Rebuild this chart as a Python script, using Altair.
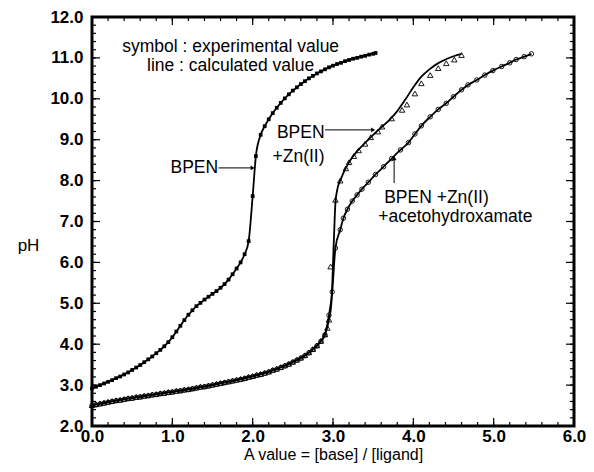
import altair as alt
import pandas as pd

# ---------------- data ----------------
# BPEN : experimental (filled squares) and calculated line
bpen_x = [0.00, 0.05, 0.10, 0.15, 0.20, 0.25, 0.30, 0.35, 0.40, 0.45, 0.50, 0.55,
          0.60, 0.65, 0.70, 0.75, 0.80, 0.85, 0.90, 0.95, 1.00, 1.05, 1.10, 1.15,
          1.20, 1.25, 1.30, 1.35, 1.40, 1.45, 1.50, 1.55, 1.60, 1.65, 1.70, 1.75,
          1.80, 1.85, 1.90, 1.95, 2.00, 2.04, 2.10, 2.15, 2.20, 2.25, 2.30, 2.35,
          2.40, 2.45, 2.50, 2.55, 2.60, 2.65, 2.70, 2.75, 2.80, 2.85, 2.90, 2.95,
          3.00, 3.05, 3.10, 3.15, 3.20, 3.25, 3.30, 3.35, 3.40, 3.45, 3.50, 3.53]
bpen_y = [2.92, 2.96, 3.00, 3.04, 3.08, 3.12, 3.17, 3.21, 3.26, 3.31, 3.37, 3.43,
          3.49, 3.56, 3.63, 3.70, 3.78, 3.86, 3.95, 4.05, 4.17, 4.31, 4.45, 4.59,
          4.72, 4.83, 4.93, 5.01, 5.09, 5.16, 5.23, 5.30, 5.38, 5.47, 5.58, 5.71,
          5.85, 6.00, 6.20, 6.52, 7.62, 8.60, 9.12, 9.33, 9.50, 9.65, 9.78, 9.90,
          10.01, 10.11, 10.20, 10.28, 10.36, 10.43, 10.50, 10.56, 10.62, 10.67, 10.72, 10.77,
          10.81, 10.85, 10.88, 10.92, 10.95, 10.98, 11.00, 11.03, 11.05, 11.08, 11.10, 11.12]

# BPEN + Zn(II) : experimental (open triangles)
zn_x = [0.00, 0.05, 0.10, 0.15, 0.20, 0.25, 0.30, 0.35, 0.40, 0.45, 0.50, 0.55,
        0.60, 0.65, 0.70, 0.75, 0.80, 0.85, 0.90, 0.95, 1.00, 1.05, 1.10, 1.15,
        1.20, 1.25, 1.30, 1.35, 1.40, 1.45, 1.50, 1.55, 1.60, 1.65, 1.70, 1.75,
        1.80, 1.85, 1.90, 1.95, 2.00, 2.05, 2.10, 2.15, 2.20, 2.25, 2.30, 2.35,
        2.40, 2.45, 2.50, 2.55, 2.60, 2.65, 2.70, 2.75, 2.80, 2.85, 2.90, 2.93,
        2.95, 2.97, 3.03, 3.09, 3.16, 3.20, 3.26, 3.32, 3.40, 3.47, 3.56, 3.61,
        3.73, 3.86, 3.92, 4.02, 4.10, 4.21, 4.31, 4.41, 4.51, 4.60]
zn_y = [2.51, 2.53, 2.55, 2.57, 2.59, 2.61, 2.63, 2.64, 2.66, 2.68, 2.69, 2.71,
        2.72, 2.74, 2.75, 2.77, 2.78, 2.80, 2.81, 2.83, 2.84, 2.86, 2.87, 2.89,
        2.90, 2.92, 2.94, 2.96, 2.97, 2.99, 3.01, 3.03, 3.05, 3.07, 3.09, 3.11,
        3.13, 3.15, 3.17, 3.20, 3.22, 3.25, 3.27, 3.30, 3.33, 3.37, 3.40, 3.44,
        3.48, 3.52, 3.57, 3.62, 3.67, 3.73, 3.80, 3.88, 3.97, 4.08, 4.24, 4.40,
        4.60, 5.90, 7.53, 8.00, 8.30, 8.45, 8.60, 8.74, 8.90, 9.06, 9.20, 9.32,
        9.52, 9.73, 9.86, 10.13, 10.38, 10.58, 10.75, 10.87, 10.96, 11.07]

# BPEN + Zn(II) : calculated line
znc_x = [0.00, 0.20, 0.40, 0.60, 0.80, 1.00, 1.20, 1.40, 1.60, 1.80, 2.00, 2.20,
         2.40, 2.60, 2.70, 2.80, 2.85, 2.90, 2.95, 2.98, 3.01, 3.03, 3.05, 3.10,
         3.20, 3.30, 3.40, 3.50, 3.60, 3.70, 3.80, 3.90, 4.00, 4.10, 4.20, 4.30,
         4.40, 4.50, 4.60]
znc_y = [2.51, 2.59, 2.66, 2.72, 2.78, 2.84, 2.90, 2.97, 3.05, 3.13, 3.22, 3.33,
         3.48, 3.67, 3.80, 3.97, 4.08, 4.24, 4.60, 5.00, 6.50, 7.45, 7.75, 8.05,
         8.45, 8.72, 8.92, 9.12, 9.30, 9.48, 9.70, 9.98, 10.28, 10.54, 10.72, 10.86,
         10.96, 11.04, 11.10]

# BPEN + Zn(II) + acetohydroxamate : experimental (open circles) and calculated line
ac_x = [0.00, 0.05, 0.10, 0.15, 0.20, 0.25, 0.30, 0.35, 0.40, 0.45, 0.50, 0.55,
        0.60, 0.65, 0.70, 0.75, 0.80, 0.85, 0.90, 0.95, 1.00, 1.05, 1.10, 1.15,
        1.20, 1.25, 1.30, 1.35, 1.40, 1.45, 1.50, 1.55, 1.60, 1.65, 1.70, 1.75,
        1.80, 1.85, 1.90, 1.95, 2.00, 2.05, 2.10, 2.15, 2.20, 2.25, 2.30, 2.35,
        2.40, 2.45, 2.50, 2.55, 2.60, 2.65, 2.70, 2.75, 2.80, 2.85, 2.90, 2.95,
        2.99, 3.03, 3.09, 3.13, 3.18, 3.24, 3.30, 3.36, 3.44, 3.53, 3.63, 3.73,
        3.84, 3.94, 4.02, 4.10, 4.21, 4.31, 4.41, 4.50, 4.60, 4.68, 4.79, 4.89,
        4.99, 5.10, 5.20, 5.28, 5.38, 5.47]
ac_y = [2.50, 2.52, 2.54, 2.56, 2.58, 2.60, 2.62, 2.63, 2.65, 2.67, 2.68, 2.70,
        2.71, 2.73, 2.74, 2.76, 2.77, 2.79, 2.80, 2.82, 2.83, 2.85, 2.86, 2.88,
        2.89, 2.91, 2.93, 2.95, 2.96, 2.98, 3.00, 3.02, 3.04, 3.06, 3.08, 3.10,
        3.12, 3.14, 3.16, 3.19, 3.21, 3.24, 3.26, 3.29, 3.32, 3.36, 3.39, 3.43,
        3.47, 3.51, 3.56, 3.61, 3.66, 3.72, 3.79, 3.87, 3.96, 4.07, 4.23, 4.71,
        5.28, 6.35, 6.80, 7.08, 7.30, 7.50, 7.65, 7.79, 7.96, 8.15, 8.34, 8.54,
        8.75, 8.93, 9.14, 9.34, 9.56, 9.74, 9.89, 10.05, 10.22, 10.34, 10.46, 10.58,
        10.69, 10.79, 10.88, 10.96, 11.03, 11.10]

# axis ticks
x_major = [0, 1, 2, 3, 4, 5, 6]
y_major = [2, 3, 4, 5, 6, 7, 8, 9, 10, 11, 12]
x_minor = [round(0.2 * i, 1) for i in range(31)]
y_minor = [round(2 + 0.2 * i, 1) for i in range(51)]

# annotations
note_center_text = ["symbol : experimental value", "line : calculated value"]
note_center_x = [1.726, 1.726]
note_center_y = [11.27, 10.80]

note_right_text = ["BPEN", "BPEN", "+Zn(II)"]
note_right_x = [1.57, 2.895, 2.895]
note_right_y = [8.31, 9.16, 8.58]

note_left_text = ["BPEN +Zn(II)", "+acetohydroxamate"]
note_left_x = [3.637, 3.563]
note_left_y = [7.57, 7.11]

# arrows: x, y, x2, y2 (data coords) and head direction
arrow_x = [1.575, 2.90, 3.761]
arrow_y = [8.31, 9.24, 7.94]
arrow_x2 = [2.00, 3.50, 3.761]
arrow_y2 = [8.31, 9.24, 8.55]
head_x = [2.00, 3.50, 3.761]
head_y = [8.31, 9.24, 8.55]
head_shape = ["triangle-right", "triangle-right", "triangle-up"]

# ---------------- chart ----------------
W, H = 482, 409
FONT = "Liberation Sans"

xs = alt.Scale(domain=[0, 6], nice=False, zero=False)
ys = alt.Scale(domain=[2, 12], nice=False, zero=False)

df_b = pd.DataFrame({"x": bpen_x, "y": bpen_y})
df_z = pd.DataFrame({"x": zn_x, "y": zn_y})
df_zc = pd.DataFrame({"x": znc_x, "y": znc_y})
df_a = pd.DataFrame({"x": ac_x, "y": ac_y})

x_axis = alt.Axis(values=x_major, format=".1f", ticks=False, tickSize=0, domain=False,
                  grid=False, labelFont=FONT, labelFontSize=17, labelFontWeight="bold",
                  labelColor="black", labelPadding=2, labelFlush=False,
                  title="A value = [base] / [ligand]", titleFont=FONT, titleFontSize=16,
                  titleFontWeight="normal", titleColor="black", titleBaseline="middle",
                  titleY=28)
y_axis = alt.Axis(values=y_major, format=".1f", ticks=False, tickSize=0, domain=False,
                  grid=False, labelFont=FONT, labelFontSize=17, labelFontWeight="bold",
                  labelColor="black", labelPadding=9, labelFlush=False,
                  title="pH", titleFont=FONT, titleFontSize=17, titleFontWeight="normal",
                  titleColor="black", titleAngle=0, titleAlign="center",
                  titleBaseline="middle", titleX=-64, titleY=228)

X = lambda: alt.X("x:Q", scale=xs, axis=x_axis)
Y = lambda: alt.Y("y:Q", scale=ys, axis=y_axis)

line_b = alt.Chart(df_b).mark_line(color="black", strokeWidth=1.8, interpolate="monotone").encode(
    x=X(), y=Y(), order="x:Q")
pts_b = alt.Chart(df_b).mark_square(color="black", size=14, opacity=1).encode(x=X(), y=Y())

line_z = alt.Chart(df_zc).mark_line(color="black", strokeWidth=1.8, interpolate="monotone").encode(
    x=X(), y=Y(), order="x:Q")
pts_z = alt.Chart(df_z).mark_point(shape="triangle-up", filled=False, color="black",
                                   size=30, strokeWidth=0.9, opacity=1).encode(x=X(), y=Y())

line_a = alt.Chart(df_a).mark_line(color="black", strokeWidth=1.8, interpolate="monotone").encode(
    x=X(), y=Y(), order="x:Q")
pts_a = alt.Chart(df_a).mark_point(shape="circle", filled=False, color="black",
                                   size=20, strokeWidth=0.9, opacity=1).encode(x=X(), y=Y())

# inward ticks on four sides
def xticks(vals, length):
    d = pd.DataFrame({"x": vals})
    bot = alt.Chart(d).mark_rule(color="black", strokeWidth=1.2).encode(
        x=X(), y=alt.value(H), y2=alt.value(H - length))
    top = alt.Chart(d).mark_rule(color="black", strokeWidth=1.2).encode(
        x=X(), y=alt.value(0), y2=alt.value(length))
    return [bot, top]

def yticks(vals, length):
    d = pd.DataFrame({"y": vals})
    lef = alt.Chart(d).mark_rule(color="black", strokeWidth=1.2).encode(
        y=Y(), x=alt.value(0), x2=alt.value(length))
    rig = alt.Chart(d).mark_rule(color="black", strokeWidth=1.2).encode(
        y=Y(), x=alt.value(W), x2=alt.value(W - length))
    return [lef, rig]

ticks = xticks(x_minor, 4) + xticks(x_major, 8) + yticks(y_minor, 4) + yticks(y_major, 8)

# annotations
def texts(txt, xv, yv, align):
    d = pd.DataFrame({"t": txt, "x": xv, "y": yv})
    return alt.Chart(d).mark_text(font=FONT, fontSize=17.5, color="black", align=align,
                                  baseline="middle").encode(x=X(), y=Y(), text="t:N")

notes = [texts(note_center_text, note_center_x, note_center_y, "center"),
         texts(note_right_text, note_right_x, note_right_y, "right"),
         texts(note_left_text, note_left_x, note_left_y, "left")]

df_arrow = pd.DataFrame({"x": arrow_x, "y": arrow_y, "x2": arrow_x2, "y2": arrow_y2})
arrows = alt.Chart(df_arrow).mark_rule(color="black", strokeWidth=1).encode(
    x=X(), y=Y(), x2="x2:Q", y2="y2:Q")
df_head = pd.DataFrame({"x": head_x, "y": head_y, "s": head_shape})
heads = alt.Chart(df_head).mark_point(filled=True, color="black", size=22, opacity=1).encode(
    x=X(), y=Y(), shape=alt.Shape("s:N", scale=None, legend=None))

chart = alt.layer(
    line_b, line_z, line_a, pts_b, pts_z, pts_a, *ticks, *notes, arrows, heads
).properties(
    width=W, height=H,
    background="white",
    autosize=alt.AutoSizeParams(type="none"),
    padding={"left": 84, "top": 9, "right": 12, "bottom": 37},
).configure_view(
    stroke="black", strokeWidth=3
)

chart.save("out.html", embed_options={"renderer": "svg", "actions": False})
